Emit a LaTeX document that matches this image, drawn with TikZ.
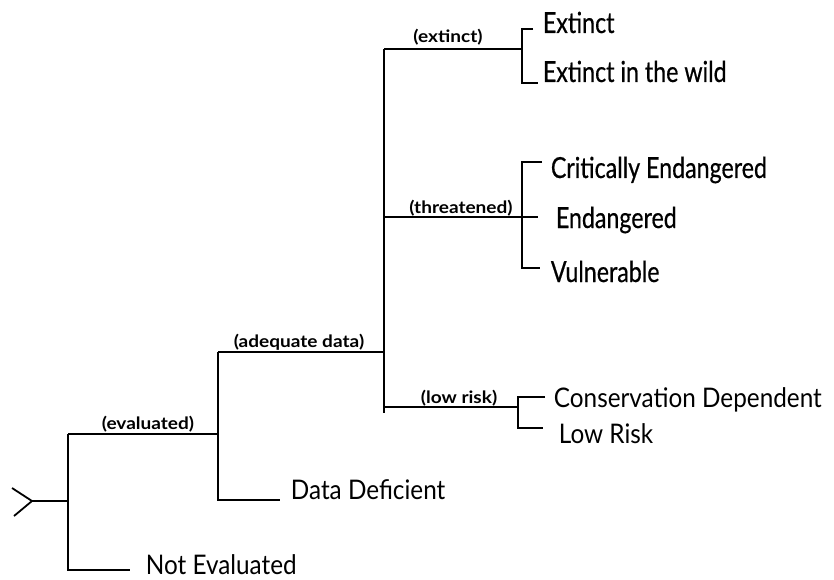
\documentclass[tikz,border=0pt]{standalone}
\usepackage{fontspec}
\setmainfont{Lato}
\newfontfamily\leafnorm[FakeStretch=0.9]{Lato}
\newfontfamily\leafcond[FakeStretch=0.80,FakeBold=0.5]{Lato}
\newfontfamily\labfont[FakeStretch=1.12]{Lato}
\begin{document}
\begin{tikzpicture}[x=1pt,y=-1pt,
  line width=1.8pt, line cap=butt,
  leafN/.style={anchor=base west, inner sep=0pt, text depth=0pt, font=\leafnorm\fontsize{27}{27}\selectfont},
  leafC/.style={anchor=base west, inner sep=0pt, text depth=0pt, font=\leafcond\fontsize{29}{29}\selectfont},
  lab/.style={anchor=base, inner sep=0pt, font=\labfont\bfseries\fontsize{17}{17}\selectfont},
  wire/.style={draw=black, line width=1.8pt}]
\useasboundingbox (0,0) rectangle (834,580);
% junction coordinates
\coordinate (armU) at (12,488);
\coordinate (armD) at (14,516);
\coordinate (tip) at (32,501);
\coordinate (s1) at (68,501);
\coordinate (s1T) at (68,434);
\coordinate (s1B) at (68,570);
\coordinate (neE) at (130,570);
\coordinate (s2) at (218,434);
\coordinate (s2T) at (218,352);
\coordinate (s2B) at (218,500);
\coordinate (ddE) at (280,500);
\coordinate (s3) at (384,352);
\coordinate (s3T) at (384,49);
\coordinate (s3B) at (384,413);
\coordinate (thr) at (384,217);
\coordinate (low) at (384,407);
% extinct bracket
\coordinate (bx) at (522,49);
\coordinate (bxT) at (522,29);
\coordinate (bxB) at (522,83);
\coordinate (exE) at (533,29);
\coordinate (ewE) at (538,83);
% threatened bracket
\coordinate (bt) at (522,217);
\coordinate (btT) at (522,162);
\coordinate (btB) at (522,268);
\coordinate (crE) at (542,162);
\coordinate (enE) at (538,217);
\coordinate (vuE) at (540,268);
% low risk bracket
\coordinate (bl) at (518,407);
\coordinate (blT) at (518,397);
\coordinate (blB) at (518,428);
\coordinate (cdE) at (545,397);
\coordinate (lrE) at (543,428);

% leaves
\node[leafC] (ex) at (542,33) {Extinct};
\node[leafC] (ew) at (542,82) {Extinct in the wild};
\node[leafC] (cr) at (550,178) {Critically Endangered};
\node[leafC] (en) at (555,228) {Endangered};
\node[leafC] (vu) at (550,282) {Vulnerable};
\node[leafN] (cd) at (553,407) {Conservation Dependent};
\node[leafN] (lr) at (558,443) {Low Risk};
\node[leafN] (dd) at (290,499) {Data Deficient};
\node[leafN] (ne) at (145,574) {Not Evaluated};

% wires
\draw[wire] (armU) -- (tip) -- (armD);
\draw[wire] (tip) -- (s1);
\draw[wire] (s1T) -- (s1B) -- (neE);
\draw[wire] (s1T) -- node[lab, above=5pt, anchor=base, xshift=5pt] (l1) {(evaluated)} (s2);
\draw[wire] (s2T) -- (s2B) -- (ddE);
\draw[wire] (s2T) -- node[lab, above=5pt, anchor=base, xshift=-2pt] (l2) {(adequate data)} (s3);
\draw[wire] (s3T) -- (s3B);
\draw[wire] (s3T) -- node[lab, above=6pt, anchor=base, xshift=-5pt] (l3) {(extinct)} (bx);
\draw[wire] (exE) -- (bxT) -- (bxB) -- (ewE);
\draw[wire] (thr) -- node[lab, above=4pt, anchor=base] (l4) {(threatened)} (enE);
\draw[wire] (crE) -- (btT) -- (btB) -- (vuE);
\draw[wire] (low) -- node[lab, above=4pt, anchor=base, xshift=8pt] (l5) {(low risk)} (bl);
\draw[wire] (cdE) -- (blT) -- (blB) -- (lrE);
\end{tikzpicture}
\end{document}
